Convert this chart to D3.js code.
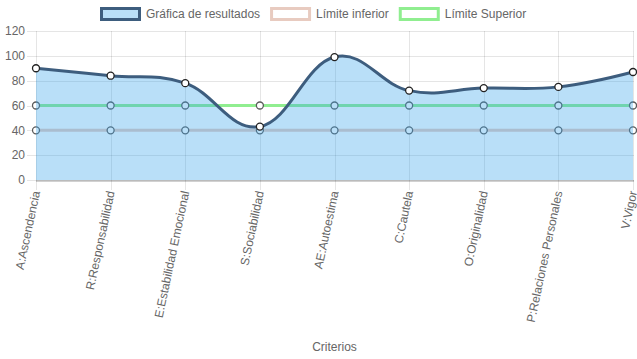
<!DOCTYPE html>
<html><head><meta charset="utf-8">
<script src="https://cdn.jsdelivr.net/npm/d3@7"></script>
<style>html,body{margin:0;padding:0;background:#fff;}svg{display:block;font-family:"Liberation Sans",Arial,Helvetica,sans-serif;}</style>
</head><body><svg id="c" width="637" height="359"></svg>
<script>
const categories = ["A:Ascendencia","R:Responsabilidad","E:Estabilidad Emocional","S:Sociabilidad","AE:Autoestima","C:Cautela","O:Originalidad","P:Relaciones Personales","V:Vigor"];
const resultados = [90, 84, 78, 43, 99, 72, 74, 75, 87];
const limiteInferior = [40, 40, 40, 40, 40, 40, 40, 40, 40];
const limiteSuperior = [60, 60, 60, 60, 60, 60, 60, 60, 60];
const yTicks = [0, 20, 40, 60, 80, 100, 120];
const seriesNames = ["Gráfica de resultados", "Límite inferior", "Límite Superior"];
const axisTitle = "Criterios";

(function () {
const W = 637, H = 359;
const svg = d3.select("#c");
const pLeft = 36, pRight = 633, pTop = 31, pBottom = 180;
const x = d3.scalePoint().domain(categories).range([pLeft, pRight]);
const y = d3.scaleLinear().domain([0, 120]).range([pBottom, pTop]);
const txt = "#666";

// grid
const g = svg.append("g");
g.selectAll(".hg").data(yTicks).enter().append("line")
  .attr("x1", pLeft - 9).attr("x2", pRight + 1)
  .attr("y1", d => Math.round(y(d)) + 0.5).attr("y2", d => Math.round(y(d)) + 0.5)
  .attr("stroke", "rgba(0,0,0,0.1)");
g.selectAll(".vg").data(categories).enter().append("line")
  .attr("x1", d => Math.round(x(d)) + 0.5).attr("x2", d => Math.round(x(d)) + 0.5)
  .attr("y1", pTop).attr("y2", pBottom + 10)
  .attr("stroke", "rgba(0,0,0,0.1)");
g.append("line").attr("x1", pLeft).attr("x2", pRight + 1).attr("y1", pBottom + 1).attr("y2", pBottom + 1)
  .attr("stroke", "rgba(0,0,0,0.18)").attr("stroke-width", 2);

// y labels
svg.selectAll(".yl").data(yTicks).enter().append("text")
  .attr("x", 25).attr("y", d => y(d)).attr("dy", "0.35em")
  .attr("text-anchor", "end").attr("font-size", 12).attr("fill", txt).text(d => d);

// x labels
svg.selectAll(".xl").data(categories).enter().append("text")
  .attr("transform", d => `translate(${x(d)},${pBottom + 11}) rotate(-78)`)
  .attr("text-anchor", "end").attr("dy", "0.35em")
  .attr("font-size", 12).attr("fill", txt).text(d => d);

svg.append("text").attr("x", (pLeft + pRight) / 2).attr("y", 347).attr("dy", "0.35em")
  .attr("text-anchor", "middle").attr("font-size", 12).attr("fill", txt).text(axisTitle);

const curve = d3.curveCardinal.tension(-0.2);
const line = d3.line().x((d, i) => x(categories[i])).y(d => y(d)).curve(curve);
const area = d3.area().x((d, i) => x(categories[i])).y0(y(0)).y1(d => y(d)).curve(curve);

const datasets = [
  {name: seriesNames[0], data: resultados, stroke: "#3d5d7e", fill: "rgba(54,162,235,0.35)", pointStroke: "#222"},
  {name: seriesNames[1], data: limiteInferior, stroke: "#e8cbc0", fill: null, pointStroke: "#5a5a5a"},
  {name: seriesNames[2], data: limiteSuperior, stroke: "#90ee90", fill: null, pointStroke: "#5a5a5a"}
];

const plot = svg.append("g");
datasets.slice().reverse().forEach(ds => {
  if (ds.fill) plot.append("path").attr("d", area(ds.data)).attr("fill", ds.fill);
  plot.append("path").attr("d", line(ds.data)).attr("fill", "none").attr("stroke", ds.stroke).attr("stroke-width", 3);
  plot.selectAll(null).data(ds.data).enter().append("circle")
    .attr("cx", (d, i) => x(categories[i])).attr("cy", d => y(d)).attr("r", 3.5)
    .attr("fill", "#fff").attr("stroke", ds.pointStroke).attr("stroke-width", 1.3);
});

// legend
const lg = svg.append("g");
const items = datasets.map(ds => {
  const t = lg.append("text").attr("font-size", 12).attr("fill", txt).attr("dy", "0.35em").attr("y", 14).text(ds.name);
  return {ds, t, w: t.node().getComputedTextLength()};
});
const total = d3.sum(items, it => 40 + 6 + it.w + 10);
let cx = Math.round((W - total) / 2);
items.forEach(it => {
  lg.append("rect").attr("x", cx + 1.5).attr("y", 8.5).attr("width", 38).attr("height", 11)
    .attr("fill", it.ds.fill ? it.ds.fill : "#fff").attr("stroke", it.ds.stroke).attr("stroke-width", 3);
  it.t.attr("x", cx + 46);
  cx += 40 + 6 + it.w + 10;
});
})();
</script></body></html>
